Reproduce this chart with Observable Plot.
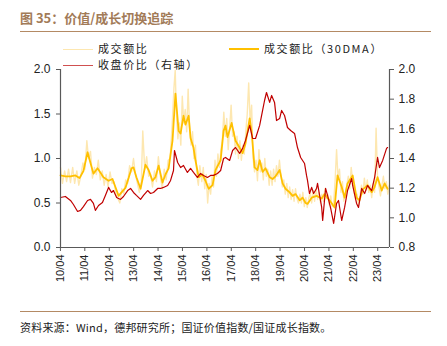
<!DOCTYPE html>
<html>
<head>
<meta charset="utf-8">
<script src="https://cdn.jsdelivr.net/npm/d3@7"></script>
<script src="https://cdn.jsdelivr.net/npm/@observablehq/plot@0.6"></script>
<style>
  body { margin: 0; background: #fff; }
  #wrap { position: relative; width: 447px; height: 346px; overflow: hidden; font-family: "Liberation Sans", Arial, sans-serif; }
  #title { position: absolute; left: 20px; top: 8px; font: bold 13px "Noto Sans CJK SC", sans-serif; color: #a27b58; white-space: nowrap; }
  .rule { position: absolute; left: 20px; width: 411px; height: 0; border-top: 1.8px solid #b48a64; }
  .leg { position: absolute; font: 11px "Noto Sans CJK SC", sans-serif; color: #222; white-space: nowrap; letter-spacing: 1.6px; line-height: 12px; height: 12px; }
  .leg span.sw { display: inline-block; width: 30px; height: 0; vertical-align: middle; margin-right: 5px; position: relative; top: -1px; }
  #chart { position: absolute; left: 0; top: 55px; }
  #caption { position: absolute; left: 20px; top: 319px; font: 11px "Noto Sans CJK SC", sans-serif; color: #222; white-space: nowrap; letter-spacing: 0.2px; }
</style>
</head>
<body>
<div id="wrap">
  <div id="title">图 35：价值/成长切换追踪</div>
  <div class="rule" style="top:31px"></div>
  <div id="legend"></div>
  <div id="chart"></div>
  <div class="rule" style="top:311px"></div>
  <div id="caption">资料来源：Wind，德邦研究所；国证价值指数/国证成长指数。</div>
</div>
<script>
// ---- data (decimal years, values) ----
const seriesNames = ["成交额比", "成交额比（30DMA）", "收盘价比（右轴）"];
const seriesColors = ["#fde7b0", "#ffc000", "#c00000"];

const rawT = [2010.25,2010.33,2010.42,2010.5,2010.58,2010.66,2010.75,2010.83,2010.92,2011.0,2011.08,2011.17,2011.25,2011.33,2011.4,2011.48,2011.56,2011.64,2011.72,2011.8,2011.88,2011.96,2012.04,2012.12,2012.2,2012.28,2012.36,2012.44,2012.52,2012.6,2012.68,2012.76,2012.84,2012.92,2013.0,2013.08,2013.16,2013.24,2013.32,2013.4,2013.48,2013.56,2013.62,2013.7,2013.78,2013.86,2013.94,2014.02,2014.1,2014.18,2014.26,2014.34,2014.42,2014.5,2014.58,2014.66,2014.74,2014.82,2014.9,2014.95,2015.0,2015.06,2015.12,2015.18,2015.24,2015.3,2015.36,2015.42,2015.48,2015.54,2015.6,2015.66,2015.72,2015.78,2015.84,2015.9,2015.96,2016.04,2016.1,2016.16,2016.22,2016.28,2016.34,2016.4,2016.46,2016.52,2016.58,2016.64,2016.7,2016.76,2016.82,2016.88,2016.94,2017.0,2017.06,2017.12,2017.18,2017.24,2017.3,2017.36,2017.42,2017.48,2017.54,2017.6,2017.66,2017.72,2017.78,2017.84,2017.9,2017.96,2018.02,2018.08,2018.14,2018.2,2018.26,2018.32,2018.38,2018.44,2018.5,2018.56,2018.62,2018.68,2018.74,2018.8,2018.86,2018.92,2018.98,2019.04,2019.1,2019.16,2019.22,2019.28,2019.34,2019.4,2019.46,2019.52,2019.58,2019.64,2019.7,2019.76,2019.82,2019.88,2019.94,2020.0,2020.06,2020.12,2020.18,2020.24,2020.3,2020.36,2020.42,2020.48,2020.54,2020.6,2020.66,2020.72,2020.78,2020.84,2020.9,2020.96,2021.02,2021.08,2021.14,2021.2,2021.26,2021.32,2021.38,2021.44,2021.5,2021.56,2021.62,2021.68,2021.74,2021.8,2021.86,2021.92,2021.98,2022.04,2022.1,2022.16,2022.22,2022.28,2022.34,2022.4,2022.46,2022.52,2022.58,2022.64,2022.7,2022.76,2022.82,2022.88,2022.94,2023.0,2023.06,2023.12,2023.18,2023.24,2023.3,2023.36,2023.42,2023.48,2023.54,2023.6,2023.66,2023.72];
const rawV = [0.90,0.72,0.86,0.74,0.88,0.73,0.90,0.72,0.86,0.70,0.80,0.95,0.88,1.20,1.00,1.08,0.78,0.90,0.82,0.98,0.76,0.86,0.70,0.82,0.68,0.85,0.72,0.74,0.60,0.55,0.50,0.66,0.60,0.76,0.72,0.92,0.85,1.00,0.82,0.72,0.62,0.74,1.31,0.88,1.02,0.80,0.82,0.68,0.86,0.74,1.02,0.80,0.66,0.88,0.76,0.98,1.00,1.35,1.80,1.99,1.50,1.22,1.40,1.15,1.70,1.40,1.55,1.30,1.78,1.35,1.15,1.30,1.00,1.15,0.80,0.70,0.92,0.74,0.90,0.66,0.82,0.50,0.72,0.60,0.80,0.68,0.98,0.80,1.05,0.90,1.10,1.20,1.52,1.25,1.45,1.10,1.35,1.60,1.25,1.30,1.05,1.25,1.00,1.20,0.98,1.15,1.05,1.30,1.50,1.85,1.40,1.60,1.00,0.85,0.98,0.75,1.10,0.85,0.95,0.76,1.00,0.80,0.88,0.70,0.86,0.70,0.88,0.74,0.92,0.80,0.98,0.82,0.68,0.76,0.60,0.72,0.56,0.68,0.54,0.65,0.52,0.66,0.55,0.50,0.60,0.50,0.62,0.46,0.56,0.45,0.55,0.62,0.50,0.64,0.52,0.66,0.54,0.62,0.50,0.60,0.52,0.66,0.55,0.60,0.48,0.58,0.46,0.50,0.75,1.10,0.78,0.88,0.62,0.74,0.52,0.62,0.70,0.80,0.66,0.90,0.75,0.62,0.54,0.60,0.48,0.58,0.70,0.60,0.78,0.64,0.76,0.62,0.70,0.56,0.72,0.62,1.34,0.80,0.68,0.58,0.70,0.80,0.66,0.74,0.60,0.70];

const dmaT = [2010.25,2010.45,2010.66,2010.86,2011.03,2011.19,2011.36,2011.48,2011.60,2011.77,2011.89,2012.01,2012.22,2012.38,2012.50,2012.63,2012.75,2012.91,2013.04,2013.16,2013.24,2013.36,2013.53,2013.73,2013.86,2014.02,2014.14,2014.27,2014.43,2014.55,2014.68,2014.84,2014.96,2015.09,2015.17,2015.29,2015.37,2015.50,2015.58,2015.70,2015.78,2015.91,2016.07,2016.19,2016.32,2016.48,2016.60,2016.81,2016.93,2017.01,2017.09,2017.26,2017.42,2017.59,2017.71,2017.83,2018.00,2018.08,2018.20,2018.32,2018.41,2018.53,2018.65,2018.82,2018.94,2019.06,2019.23,2019.35,2019.47,2019.64,2019.76,2019.88,2020.05,2020.17,2020.29,2020.37,2020.54,2020.74,2020.95,2021.07,2021.27,2021.48,2021.60,2021.77,2021.89,2022.01,2022.22,2022.38,2022.50,2022.63,2022.83,2023.00,2023.12,2023.24,2023.41,2023.53,2023.65];
const dmaV = [0.81,0.80,0.80,0.81,0.78,0.86,1.07,0.95,0.83,0.89,0.84,0.79,0.75,0.77,0.68,0.58,0.62,0.67,0.78,0.89,0.90,0.79,0.66,0.93,0.87,0.75,0.79,0.92,0.73,0.82,0.89,1.20,1.73,1.31,1.28,1.48,1.38,1.48,1.23,1.12,0.98,0.79,0.82,0.75,0.66,0.70,0.87,0.98,1.31,1.37,1.24,1.40,1.20,1.12,1.06,1.17,1.45,1.30,0.90,0.87,0.98,0.85,0.89,0.79,0.77,0.80,0.87,0.72,0.66,0.62,0.58,0.60,0.53,0.56,0.50,0.49,0.56,0.58,0.55,0.60,0.53,0.45,0.81,0.68,0.56,0.72,0.81,0.56,0.53,0.65,0.70,0.62,0.68,0.79,0.64,0.72,0.66];

const priceT = [2010.25,2010.45,2010.66,2010.78,2010.95,2011.07,2011.19,2011.36,2011.48,2011.60,2011.68,2011.81,2011.97,2012.09,2012.22,2012.34,2012.42,2012.55,2012.71,2012.83,2013.00,2013.12,2013.24,2013.36,2013.53,2013.65,2013.82,2013.94,2014.06,2014.23,2014.35,2014.47,2014.64,2014.76,2014.88,2014.92,2015.05,2015.17,2015.29,2015.45,2015.58,2015.70,2015.86,2015.99,2016.11,2016.27,2016.40,2016.52,2016.68,2016.81,2016.93,2017.01,2017.18,2017.30,2017.42,2017.59,2017.71,2017.83,2018.00,2018.12,2018.24,2018.41,2018.53,2018.61,2018.69,2018.82,2018.90,2019.02,2019.10,2019.23,2019.31,2019.43,2019.55,2019.68,2019.84,2019.96,2020.09,2020.25,2020.33,2020.37,2020.45,2020.54,2020.62,2020.74,2020.78,2020.95,2020.99,2021.11,2021.19,2021.32,2021.44,2021.56,2021.64,2021.77,2021.89,2022.01,2022.18,2022.22,2022.38,2022.46,2022.59,2022.71,2022.83,2023.00,2023.12,2023.24,2023.32,2023.45,2023.61,2023.65];
const priceV = [1.137,1.144,1.117,1.090,1.043,1.050,1.076,1.117,1.124,1.097,1.050,1.083,1.103,1.151,1.205,1.171,1.184,1.137,1.124,1.144,1.184,1.198,1.171,1.151,1.124,1.151,1.184,1.164,1.171,1.198,1.198,1.205,1.218,1.252,1.319,1.454,1.373,1.339,1.353,1.306,1.333,1.306,1.272,1.299,1.286,1.272,1.286,1.286,1.299,1.319,1.400,1.407,1.387,1.454,1.474,1.434,1.468,1.522,1.623,1.535,1.535,1.623,1.724,1.791,1.845,1.778,1.825,1.778,1.656,1.670,1.724,1.690,1.609,1.589,1.569,1.474,1.407,1.366,1.286,1.252,1.164,1.205,1.164,1.198,1.232,1.070,0.982,1.198,1.151,1.063,0.962,1.097,1.117,0.982,1.070,1.184,1.265,1.218,1.097,1.070,1.198,1.164,1.218,1.184,1.272,1.407,1.339,1.387,1.468,1.474];

const leftTicks = [0, 0.5, 1.0, 1.5, 2.0];
const rightTicks = [0.8, 1.0, 1.2, 1.4, 1.6, 1.8, 2.0];
const xTickYears = [2010,2011,2012,2013,2014,2015,2016,2017,2018,2019,2020,2021,2022,2023];
const xDomain = [2010.25, 2023.73];
const leftDomain = [0, 2];
const rightDomain = [0.8, 2.0];

// ---- helpers ----
function toDate(y) {
  const yr = Math.floor(y);
  const s = Date.UTC(yr, 0, 1), e = Date.UTC(yr + 1, 0, 1);
  return new Date(s + (y - yr) * (e - s));
}
const r2l = v => leftDomain[0] + (v - rightDomain[0]) / (rightDomain[1] - rightDomain[0]) * (leftDomain[1] - leftDomain[0]);
const l2r = v => rightDomain[0] + (v - leftDomain[0]) / (leftDomain[1] - leftDomain[0]) * (rightDomain[1] - rightDomain[0]);

const raw = rawT.map((t, i) => ({date: toDate(t), v: rawV[i]}));
const dma = dmaT.map((t, i) => ({date: toDate(t), v: dmaV[i]}));
const price = priceT.map((t, i) => ({date: toDate(t), v: r2l(priceV[i])}));
const xTicks = xTickYears.map(y => new Date(Date.UTC(y, 3, 1)));
const d0 = toDate(xDomain[0]), d1 = toDate(xDomain[1]);

const axisColor = "#595959";
const chart = Plot.plot({
  width: 447,
  height: 250,
  marginLeft: 60,
  marginRight: 58,
  marginTop: 14,
  marginBottom: 58,
  style: {fontFamily: "'Liberation Sans', Arial, sans-serif", fontSize: "12px", color: "#222", background: "transparent"},
  x: {type: "utc", domain: [d0, d1]},
  y: {domain: leftDomain},
  marks: [
    Plot.line(raw, {x: "date", y: "v", stroke: seriesColors[0], strokeWidth: 1.4}),
    Plot.line(dma, {x: "date", y: "v", stroke: seriesColors[1], strokeWidth: 1.8}),
    Plot.line(price, {x: "date", y: "v", stroke: seriesColors[2], strokeWidth: 1.2}),
    Plot.ruleY([0], {stroke: axisColor, strokeWidth: 1.2}),
    Plot.ruleX([d0, d1], {y1: leftDomain[0], y2: leftDomain[1], stroke: axisColor, strokeWidth: 1.2}),
    Plot.axisY({anchor: "left", ticks: leftTicks, tickFormat: d3.format(".1f"), tickSize: 4, tickPadding: 6, label: null, stroke: axisColor, fontSize: 12}),
    Plot.axisY({anchor: "right", ticks: rightTicks.map(r2l), tickFormat: d => l2r(d).toFixed(1), tickSize: 4, tickPadding: 5, label: null, stroke: axisColor, fontSize: 12}),
    Plot.axisX({ticks: xTicks, tickFormat: d3.utcFormat("%y/%m"), tickRotate: -90, tickSize: 4, tickPadding: 3, label: null, stroke: axisColor, fontSize: 11})
  ]
});
document.getElementById("chart").appendChild(chart);

// ---- legend ----
const legend = document.getElementById("legend");
const legItems = [
  {name: seriesNames[0], color: seriesColors[0], left: 63, top: 42, w: 1.5},
  {name: seriesNames[1], color: seriesColors[1], left: 229, top: 42, w: 2},
  {name: seriesNames[2], color: "#d05050", left: 63, top: 58, w: 1.5}
];
for (const it of legItems) {
  const d = document.createElement("div");
  d.className = "leg";
  d.style.left = it.left + "px";
  d.style.top = it.top + "px";
  d.innerHTML = `<span class="sw" style="border-top:${it.w}px solid ${it.color}"></span>${it.name}`;
  legend.appendChild(d);
}
</script>
</body>
</html>
